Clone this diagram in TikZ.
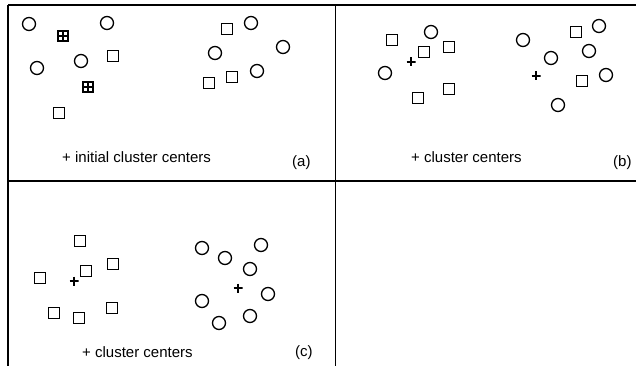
\documentclass[tikz,border=0pt]{standalone}
\usepackage{fontspec}
\setmainfont{Liberation Sans}
\begin{document}
\begin{tikzpicture}[x=1pt,y=-1pt,
  frame/.style={line width=1.5pt},
  circ/.style={circle,draw,line width=1.3pt,minimum size=13pt,inner sep=0pt},
  sq/.style={rectangle,draw,line width=1.3pt,minimum size=11pt,inner sep=0pt},
  crossmark/.style={path picture={
     \draw[line width=1.2pt] (path picture bounding box.north) -- (path picture bounding box.south);
     \draw[line width=1.2pt] (path picture bounding box.west) -- (path picture bounding box.east);}},
  bsq/.style={rectangle,draw,line width=1.3pt,minimum size=10pt,inner sep=0pt,crossmark},
  ctr/.style={rectangle,minimum size=9pt,inner sep=0pt,crossmark},
  lab/.style={anchor=base west,inner sep=0pt,font=\fontsize{15}{17}\selectfont}]
\useasboundingbox (0,0) rectangle (636,366);
\fill[white] (0,0) rectangle (636,366);
% frame
\draw[frame] (8,5) -- (636,5);
\draw[frame] (8,5) -- (8,366);
\draw[frame] (335.5,5) -- (335.5,366);
\draw[frame] (8,181) -- (636,181);
% panel (a)
\node[circ] (a1) at (29,24) {};
\node[bsq] (a2) at (63,36) {};
\node[circ] (a3) at (107,23) {};
\node[sq] (a4) at (113,56) {};
\node[circ] (a5) at (37,68) {};
\node[circ] (a6) at (81,61) {};
\node[bsq] (a7) at (88,87) {};
\node[sq] (a8) at (59,113) {};
\node[sq] (a9) at (227,29) {};
\node[circ] (a10) at (251,23) {};
\node[circ] (a11) at (283,47) {};
\node[circ] (a12) at (215,53) {};
\node[circ] (a13) at (257,71) {};
\node[sq] (a14) at (232,77) {};
\node[sq] (a15) at (209,83) {};
\node[lab] (alab) at (62,163) {+ initial cluster centers};
\node[lab] (atag) at (292,166) {(a)};
% panel (b)
\node[sq] (b1) at (392,40) {};
\node[circ] (b2) at (431,32) {};
\node[sq] (b3) at (424,52) {};
\node[sq] (b4) at (449,47) {};
\node[ctr] (b5) at (411,62) {};
\node[circ] (b6) at (385,73) {};
\node[sq] (b7) at (418,98) {};
\node[sq] (b8) at (449,89) {};
\node[circ] (b9) at (523,40) {};
\node[sq] (b10) at (576,32) {};
\node[circ] (b11) at (599,26) {};
\node[circ] (b12) at (551,58) {};
\node[circ] (b13) at (589,51) {};
\node[ctr] (b14) at (536,76) {};
\node[sq] (b15) at (582,81) {};
\node[circ] (b16) at (606,75) {};
\node[circ] (b17) at (558,105) {};
\node[lab] (blab) at (411,163) {+ cluster centers};
\node[lab] (btag) at (613,167) {(b)};
% panel (c)
\node[sq] (c1) at (80,241) {};
\node[sq] (c2) at (113,264) {};
\node[sq] (c3) at (86,271) {};
\node[sq] (c4) at (40,278) {};
\node[ctr] (c5) at (74,281) {};
\node[sq] (c6) at (54,313) {};
\node[sq] (c7) at (79,318) {};
\node[sq] (c8) at (112,308) {};
\node[circ] (c9) at (202,248) {};
\node[circ] (c10) at (261,245) {};
\node[circ] (c11) at (225,258) {};
\node[circ] (c12) at (250,269) {};
\node[ctr] (c13) at (238,288) {};
\node[circ] (c14) at (268,294) {};
\node[circ] (c15) at (202,301) {};
\node[circ] (c16) at (250,316) {};
\node[circ] (c17) at (219,323) {};
\node[lab] (clab) at (82,357) {+ cluster centers};
\node[lab] (ctag) at (295,356) {(c)};
\end{tikzpicture}
\end{document}
